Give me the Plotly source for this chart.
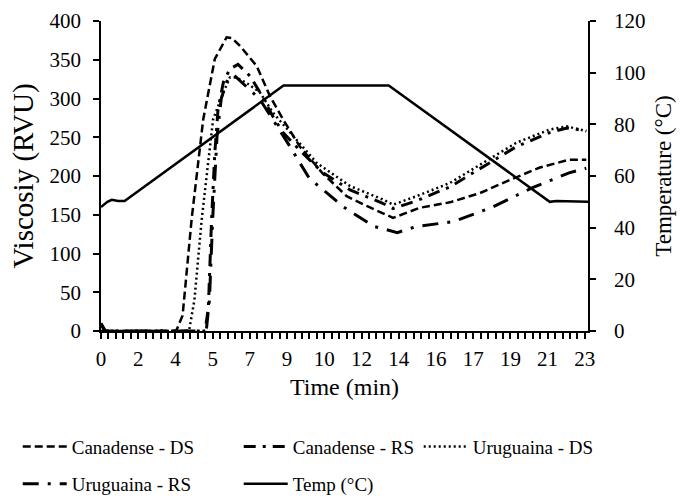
import plotly.graph_objects as go

# ---- data ----
tick_labels = ["0", "2", "4", "5", "7", "9", "10", "12", "14", "16", "17", "19", "21", "23"]
label_step_min = 1.7333  # minutes between labelled categories

canadense_ds_t = [0, 3.5, 3.8, 4.22, 4.76, 5.3, 5.85, 6.1, 6.47, 7.25, 7.87, 8.48, 9.26, 10.3, 11.44,
                  12.4, 13.6, 14.85, 16.25, 17.65, 19.05, 20.44, 21.8, 22.6]
canadense_ds_v = [0, 0, 20, 144, 273, 351, 379, 378, 368, 342, 303, 273, 238, 204, 174,
                  161, 146, 159, 166, 178, 195, 211, 221, 221]

canadense_rs_t = [0, 0.2, 4.85, 5.0, 5.15, 5.3, 5.45, 5.7, 6.0, 6.38, 6.94, 7.4, 8.0, 8.48, 9.3,
                  10.3, 11.6, 13.1, 13.6, 14.7, 16.25, 17.8, 19.35, 20.9, 21.7, 22.6]
canadense_rs_v = [10, 0, 0, 30, 144, 230, 286, 321, 338, 344, 329, 308, 277, 256, 232,
                  205, 182, 165, 158, 168, 186, 212, 238, 256, 262, 258]

uruguaina_ds_t = [0, 4.1, 4.35, 4.69, 5.22, 5.7, 6.0, 6.3, 6.78, 7.4, 8.0, 8.8, 10.04, 11.6, 13.1,
                  13.6, 14.7, 16.25, 17.8, 19.35, 20.9, 21.7, 22.6]
uruguaina_ds_v = [0, 0, 40, 144, 273, 308, 327, 327, 320, 308, 282, 256, 217, 187, 170,
                  163, 174, 191, 217, 243, 260, 264, 258]

uruguaina_rs_t = [0, 0.2, 4.9, 5.05, 5.2, 5.4, 5.6, 5.9, 6.2, 6.6, 7.4, 8.8, 9.7, 11.3, 12.7,
                  13.8, 14.7, 16.4, 18.25, 20.1, 21.8, 22.6]
uruguaina_rs_v = [8, 0, 0, 40, 144, 250, 300, 325, 330, 320, 299, 238, 197, 160, 135,
                  127, 135, 141, 160, 185, 204, 210]

temp_t = [0, 0.3, 0.5, 0.8, 1.1, 8.5, 13.4, 20.9, 21.2, 22.68]
temp_c = [48, 50, 50.8, 50.3, 50.3, 95, 95, 50, 50.3, 50]

# ---- figure ----
FONT = "Liberation Serif, Times New Roman, serif"
fig = go.Figure()

fig.add_trace(go.Scatter(x=canadense_ds_t, y=canadense_ds_v, name="Canadense - DS", mode="lines",
                         line=dict(color="black", width=2.5, dash="8px,4px"),
                         legend="legend", legendwidth=162))
fig.add_trace(go.Scatter(x=canadense_rs_t, y=canadense_rs_v, name="Canadense - RS", mode="lines",
                         line=dict(color="black", width=3, dash="12px,7px,3px,7px"),
                         legend="legend", legendwidth=121))
fig.add_trace(go.Scatter(x=uruguaina_ds_t, y=uruguaina_ds_v, name="Uruguaina - DS", mode="lines",
                         line=dict(color="black", width=2.5, dash="2px,3px"),
                         legend="legend", legendwidth=130))
fig.add_trace(go.Scatter(x=uruguaina_rs_t, y=uruguaina_rs_v, name="Uruguaina - RS", mode="lines",
                         line=dict(color="black", width=3, dash="16px,9px,3px,9px"),
                         legend="legend2", legendwidth=162))
fig.add_trace(go.Scatter(x=temp_t, y=temp_c, name="Temp (°C)", mode="lines", yaxis="y2",
                         line=dict(color="black", width=2.5),
                         legend="legend2", legendwidth=120))

tickvals = [i * label_step_min for i in range(len(tick_labels))]

axis_common = dict(showgrid=False, zeroline=False, showline=True, linecolor="black", linewidth=1.5,
                   ticks="outside", tickcolor="black", tickwidth=1.5, ticklen=6)

fig.update_layout(
    width=683, height=502,
    margin=dict(l=101, r=95, t=21, b=171, autoexpand=False),
    paper_bgcolor="white", plot_bgcolor="white",
    font=dict(family=FONT, color="black", size=21),
    xaxis=dict(range=[0, 22.68], tickvals=tickvals, ticktext=tick_labels,
               tickfont=dict(size=21), ticklabelstandoff=2, automargin=False,
               minor=dict(dtick=label_step_min / 5, tick0=0, ticks="outside", ticklen=6,
                          tickcolor="black", tickwidth=1.5),
               title=dict(text="Time (min)", font=dict(size=24), standoff=8),
               **axis_common),
    yaxis=dict(range=[0, 400], dtick=50, tickfont=dict(size=21), ticklabelstandoff=8,
               automargin=False,
               title=dict(text="Viscosiy (RVU)", font=dict(size=29), standoff=7),
               **axis_common),
    yaxis2=dict(range=[0, 120], dtick=20, overlaying="y", side="right", anchor="x",
                tickfont=dict(size=21), ticklabelstandoff=14, automargin=False,
                title=dict(text="Temperature (°C)", font=dict(size=23), standoff=10),
                **axis_common),
    legend=dict(orientation="h", x=-0.171, xanchor="left", y=-0.312, yanchor="top",
                font=dict(size=19, family=FONT), itemwidth=44, bgcolor="rgba(0,0,0,0)"),
    legend2=dict(orientation="h", x=-0.171, xanchor="left", y=-0.432, yanchor="top",
                 font=dict(size=19, family=FONT), itemwidth=44, bgcolor="rgba(0,0,0,0)"),
)

fig.write_html("out.html")
